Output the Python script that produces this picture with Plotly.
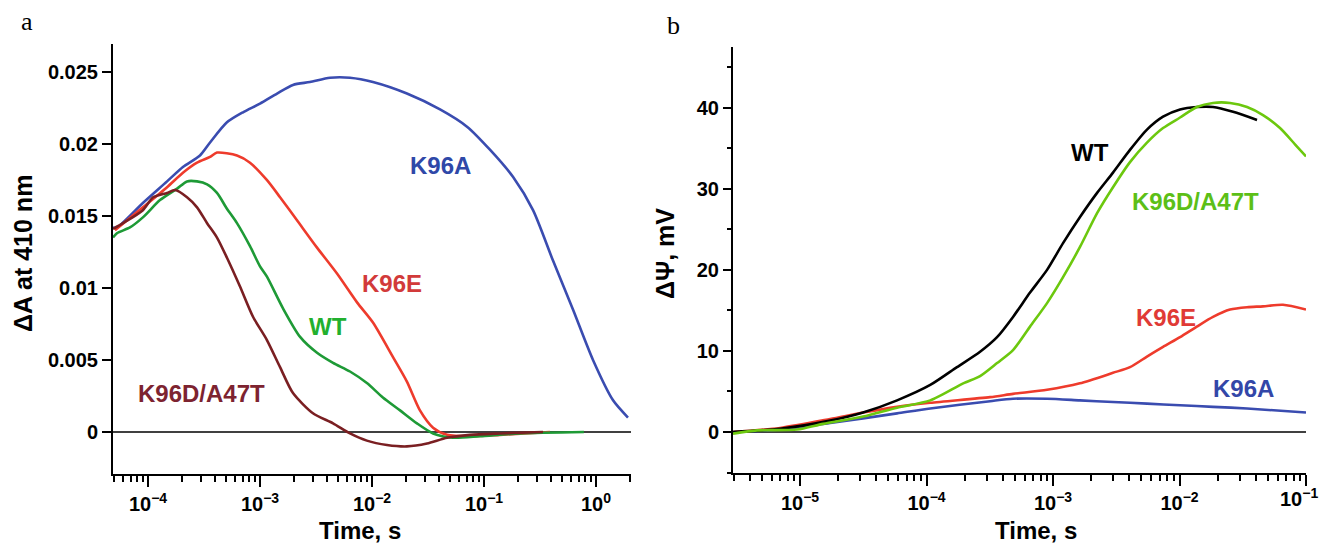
import plotly.graph_objects as go

# The page body keeps its default 8px margin; the figure is sized so that the
# whole page is exactly 1328x554 (no scrollbars, no rescaling).
OFF = 8
W, H = 1328 - 2 * OFF, 554 - 2 * OFF

# ---------------- Panel a data (time in s, ΔA at 410 nm) ----------------
a_k96a_t = [4.87e-5, 5.28e-5, 9.0e-5, 1.48e-4, 2.05e-4, 2.91e-4, 3.58e-4, 5.07e-4, 7.05e-4, 1.0e-3,
            1.42e-3, 1.97e-3, 2.79e-3, 4.22e-3, 6.36e-3, 1.02e-2, 2.05e-2, 4.05e-2, 7.05e-2, 0.113,
            0.182, 0.274, 0.413, 0.623, 0.940, 1.42, 1.93]
a_k96a_v = [0.0142, 0.0142, 0.0159, 0.0174, 0.0184, 0.0192, 0.0201, 0.0215, 0.0222, 0.0228,
            0.0235, 0.0241, 0.0243, 0.0246, 0.0246, 0.0243, 0.0235, 0.0224, 0.0212, 0.0196,
            0.0177, 0.0154, 0.0119, 0.0085, 0.0050, 0.0022, 0.0010]

a_k96e_t = [5.07e-5, 9.0e-5, 1.48e-4, 2.05e-4, 2.74e-4, 3.58e-4, 4.13e-4, 6.23e-4, 8.14e-4, 1.15e-3,
            1.51e-3, 2.14e-3, 3.23e-3, 4.87e-3, 7.35e-3, 1.02e-2, 1.54e-2, 2.05e-2, 2.68e-2, 3.51e-2,
            4.68e-2, 7.5e-2, 0.139, 0.388]
a_k96e_v = [0.0140, 0.0156, 0.0170, 0.0180, 0.0187, 0.0191, 0.0194, 0.0192, 0.0187, 0.0175,
            0.0163, 0.0147, 0.0128, 0.0110, 0.0090, 0.0076, 0.0052, 0.0035, 0.0015, 0.0003,
            -0.0002, -0.0003, -0.0002, 0.0]

a_wt_t = [4.87e-5, 5.28e-5, 6.9e-5, 9.0e-5, 1.28e-4, 1.82e-4, 2.23e-4, 2.74e-4, 3.37e-4, 4.13e-4,
          5.07e-4, 6.23e-4, 8.14e-4, 1.0e-3, 1.15e-3, 1.60e-3, 2.28e-3, 3.23e-3, 4.49e-3, 6.36e-3,
          9.0e-3, 1.25e-2, 1.78e-2, 2.52e-2, 3.51e-2, 5.28e-2, 9.2e-2, 0.21, 0.78]
a_wt_v = [0.0135, 0.0138, 0.0142, 0.0149, 0.0161, 0.0169, 0.0174, 0.0174, 0.0172, 0.0166,
          0.0155, 0.0145, 0.0129, 0.0115, 0.0108, 0.0086, 0.0066, 0.0055, 0.0048, 0.0042,
          0.0034, 0.0024, 0.0015, 0.0006, -0.0001, -0.0004, -0.0003, -0.0001, 0.0]

a_k96d_t = [4.87e-5, 5.98e-5, 9.0e-5, 1.11e-4, 1.48e-4, 1.74e-4, 2.23e-4, 2.74e-4, 3.37e-4, 4.13e-4,
            5.07e-4, 6.63e-4, 8.66e-4, 1.15e-3, 1.51e-3, 1.97e-3, 2.97e-3, 4.49e-3, 6.36e-3, 9.0e-3,
            1.36e-2, 2.05e-2, 3.10e-2, 4.68e-2, 7.5e-2, 0.139, 0.336]
a_k96d_v = [0.0141, 0.0145, 0.0154, 0.0163, 0.0166, 0.0168, 0.0163, 0.0156, 0.0145, 0.0135,
            0.0121, 0.0101, 0.0080, 0.0064, 0.0045, 0.0027, 0.0013, 0.0006, -0.0001, -0.0006,
            -0.0009, -0.0010, -0.0008, -0.0004, -0.0002, -0.0001, 0.0]

# ---------------- Panel b data (time in s, ΔΨ in mV) ----------------
b_wt_t = [2.95e-6, 6.95e-6, 1.73e-5, 3.15e-5, 5.85e-5, 1.07e-4, 1.74e-4, 2.65e-4, 3.61e-4, 4.83e-4,
          6.58e-4, 8.97e-4, 1.20e-3, 1.63e-3, 2.23e-3, 2.98e-3, 4.06e-3, 5.53e-3, 7.41e-3, 1.01e-2,
          1.37e-2, 1.84e-2, 2.65e-2, 4.10e-2]
b_wt_v = [0.0, 0.4, 1.4, 2.4, 3.9, 5.8, 8.0, 9.9, 11.7, 14.2,
          17.2, 20.0, 23.3, 26.5, 29.5, 32.0, 34.8, 37.3, 38.9, 39.8,
          40.1, 40.1, 39.5, 38.5]

b_k96d_t = [2.95e-6, 4.57e-6, 9.47e-6, 1.52e-5, 3.15e-5, 5.85e-5, 1.07e-4, 1.95e-4, 2.65e-4, 3.61e-4,
            4.83e-4, 6.58e-4, 8.97e-4, 1.20e-3, 1.63e-3, 2.23e-3, 2.98e-3, 4.06e-3, 5.53e-3, 7.41e-3,
            1.01e-2, 1.37e-2, 1.84e-2, 2.51e-2, 3.42e-2, 4.57e-2, 6.23e-2, 8.18e-2, 0.1]
b_k96d_v = [-0.2, 0.2, 0.3, 1.0, 1.9, 3.0, 3.9, 6.0, 6.9, 8.5,
            10.1, 13.0, 15.9, 19.1, 22.8, 27.0, 30.2, 33.3, 35.7, 37.5,
            38.8, 40.1, 40.6, 40.6, 40.1, 39.1, 37.5, 35.5, 34.0]

b_k96e_t = [2.95e-6, 6.95e-6, 1.73e-5, 3.15e-5, 5.85e-5, 1.07e-4, 3.18e-4, 4.83e-4, 8.97e-4, 1.63e-3,
            2.98e-3, 4.06e-3, 5.53e-3, 7.41e-3, 1.01e-2, 1.37e-2, 1.84e-2, 2.51e-2, 3.42e-2, 4.57e-2,
            6.58e-2, 0.1]
b_k96e_v = [0.0, 0.5, 1.6, 2.4, 3.1, 3.6, 4.3, 4.7, 5.2, 6.0,
            7.3, 8.0, 9.3, 10.5, 11.7, 13.0, 14.2, 15.1, 15.4, 15.5,
            15.7, 15.1]

b_k96a_t = [2.95e-6, 6.95e-6, 1.73e-5, 5.85e-5, 1.07e-4, 3.18e-4, 4.83e-4, 8.97e-4, 1.63e-3, 2.98e-3,
            5.53e-3, 1.01e-2, 1.84e-2, 3.42e-2, 0.1]
b_k96a_v = [0.0, 0.3, 1.1, 2.3, 2.9, 3.8, 4.1, 4.1, 3.9, 3.7,
            3.5, 3.3, 3.1, 2.9, 2.4]

# ---------------- tick labels ----------------
a_xtick_vals = [1e-4, 1e-3, 1e-2, 1e-1, 1]
a_xtick_text = ["10<sup>−4</sup>", "10<sup>−3</sup>", "10<sup>−2</sup>", "10<sup>−1</sup>", "10<sup>0</sup>"]
a_ytick_vals = [0, 0.005, 0.01, 0.015, 0.02, 0.025]
a_ytick_text = ["0", "0.005", "0.01", "0.015", "0.02", "0.025"]
b_xtick_vals = [1e-5, 1e-4, 1e-3, 1e-2, 1e-1]
# the last label (10^-1) sits on the page edge; it is drawn as an annotation so it is not clipped
b_xtick_text = ["10<sup>−5</sup>", "10<sup>−4</sup>", "10<sup>−3</sup>", "10<sup>−2</sup>", ""]
b_xtick_last = "10<sup>−1</sup>"
b_ytick_vals = [0, 10, 20, 30, 40]
b_ytick_text = ["0", "10", "20", "30", "40"]
b_ytick_minor = [-5, 5, 15, 25, 35, 45]

a_xminor = [m * 10.0 ** e for e in range(-5, 1) for m in range(2, 10)
            if 4.8e-5 <= m * 10.0 ** e <= 2.05]
b_xminor = [m * 10.0 ** e for e in range(-6, -1) for m in range(2, 10)
            if 2.9e-6 <= m * 10.0 ** e <= 0.1]

# colours
C_BLUE = "#3a4cb0"
C_RED = "#ee3b2c"
C_GREEN = "#1e9a36"
C_DRED = "#7a1f22"
C_LIME = "#6cc80e"


def px(x):
    """page pixel x -> paper fraction"""
    return (x - OFF) / W


def py(y):
    """page pixel y -> paper fraction"""
    return 1 - (y - OFF) / H


fig = go.Figure()

lw = 2.6
sm = dict(shape="spline", smoothing=0.7)
fig.add_trace(go.Scatter(x=a_k96a_t, y=a_k96a_v, mode="lines", line=dict(color=C_BLUE, width=lw, **sm), xaxis="x", yaxis="y"))
fig.add_trace(go.Scatter(x=a_k96e_t, y=a_k96e_v, mode="lines", line=dict(color=C_RED, width=lw, **sm), xaxis="x", yaxis="y"))
fig.add_trace(go.Scatter(x=a_wt_t, y=a_wt_v, mode="lines", line=dict(color=C_GREEN, width=lw, **sm), xaxis="x", yaxis="y"))
fig.add_trace(go.Scatter(x=a_k96d_t, y=a_k96d_v, mode="lines", line=dict(color=C_DRED, width=lw, **sm), xaxis="x", yaxis="y"))

fig.add_trace(go.Scatter(x=b_k96a_t, y=b_k96a_v, mode="lines", line=dict(color=C_BLUE, width=lw, **sm), xaxis="x2", yaxis="y2"))
fig.add_trace(go.Scatter(x=b_k96e_t, y=b_k96e_v, mode="lines", line=dict(color=C_RED, width=lw, **sm), xaxis="x2", yaxis="y2"))
fig.add_trace(go.Scatter(x=b_wt_t, y=b_wt_v, mode="lines", line=dict(color="#000000", width=lw, **sm), xaxis="x2", yaxis="y2"))
fig.add_trace(go.Scatter(x=b_k96d_t, y=b_k96d_v, mode="lines", line=dict(color=C_LIME, width=lw, **sm), xaxis="x2", yaxis="y2"))

tickfont = dict(family="Liberation Sans", size=20, color="black", weight="bold")

common_axis = dict(showline=True, linecolor="black", linewidth=2, showgrid=False, zeroline=False,
                   ticks="outside", tickcolor="black", tickwidth=2, tickfont=tickfont, mirror=False)

fig.update_layout(
    width=W, height=H,
    margin=dict(l=0, r=0, t=0, b=0),
    paper_bgcolor="white", plot_bgcolor="white",
    showlegend=False,
    font=dict(family="Liberation Sans", color="black", size=20),
    xaxis=dict(common_axis, type="log", domain=[px(113), px(631)], range=[-4.3125, 0.3125],
               anchor="y", tickmode="array", tickvals=a_xtick_vals, ticktext=a_xtick_text, ticklen=11,
               minor=dict(ticks="outside", tickmode="array", tickvals=a_xminor, ticklen=6,
                          tickwidth=1.5, tickcolor="black", showgrid=False)),
    yaxis=dict(common_axis, domain=[py(474), py(44)], range=[-0.002917, 0.02694], anchor="x",
               tickmode="array", tickvals=a_ytick_vals, ticktext=a_ytick_text, ticklen=9),
    xaxis2=dict(common_axis, type="log", domain=[px(733), px(1306)], range=[-5.53, -1.0],
                anchor="y2", tickmode="array", tickvals=b_xtick_vals, ticktext=b_xtick_text, ticklen=11,
                minor=dict(ticks="outside", tickmode="array", tickvals=b_xminor, ticklen=6,
                           tickwidth=1.5, tickcolor="black", showgrid=False)),
    yaxis2=dict(common_axis, domain=[py(473), py(47)], range=[-5.06, 47.5], anchor="x2",
                tickmode="array", tickvals=b_ytick_vals, ticktext=b_ytick_text, ticklen=8,
                minor=dict(ticks="outside", tickmode="array", tickvals=b_ytick_minor, ticklen=4,
                           tickwidth=1.5, tickcolor="black", showgrid=False)),
)

# zero lines
fig.add_shape(type="line", xref="x domain", yref="y", x0=0, x1=1, y0=0, y1=0,
              line=dict(color="black", width=1.5), layer="below")
fig.add_shape(type="line", xref="x2 domain", yref="y2", x0=0, x1=1, y0=0, y1=0,
              line=dict(color="black", width=1.5), layer="below")

lab = dict(family="Liberation Sans", size=24, weight="bold")


def note(text, x, y, color, font=None, angle=0, xanchor="center"):
    f = dict(font or lab)
    f["color"] = color
    fig.add_annotation(text=text, x=px(x), y=py(y), xref="paper", yref="paper",
                       showarrow=False, font=f, textangle=angle, xanchor=xanchor, yanchor="middle")


# curve labels, panel a
note("K96A", 440, 166, "#2f48a8")
note("K96E", 392, 283, "#d23a3a")
note("WT", 328, 326, "#22b02e")
note("K96D/A47T", 201, 393, "#7d2330")
# curve labels, panel b
note("WT", 1090, 152, "#000000")
note("K96D/A47T", 1195, 202, "#5cbf17")
note("K96E", 1166, 317, "#e03a36")
note("K96A", 1243, 388, "#3347a8")

# last tick label of panel b, kept inside the page
note(b_xtick_last, 1320, 497, "black", tickfont, xanchor="right")

# axis titles
title_font = dict(family="Liberation Sans", size=24, weight="bold")
note("Time, s", 360, 530, "black", title_font)
note("Time, s", 1036, 530, "black", title_font)
note("ΔA at 410 nm", 23, 254, "black", dict(title_font, size=25), angle=-90)
note("ΔΨ, mV", 665, 254, "black", dict(title_font, size=25), angle=-90)

# panel letters
letter_font = dict(family="Liberation Serif", size=26)
note("a", 27, 22, "black", letter_font)
note("b", 673, 25, "black", letter_font)

fig.write_html("out.html", config={"displayModeBar": False})
